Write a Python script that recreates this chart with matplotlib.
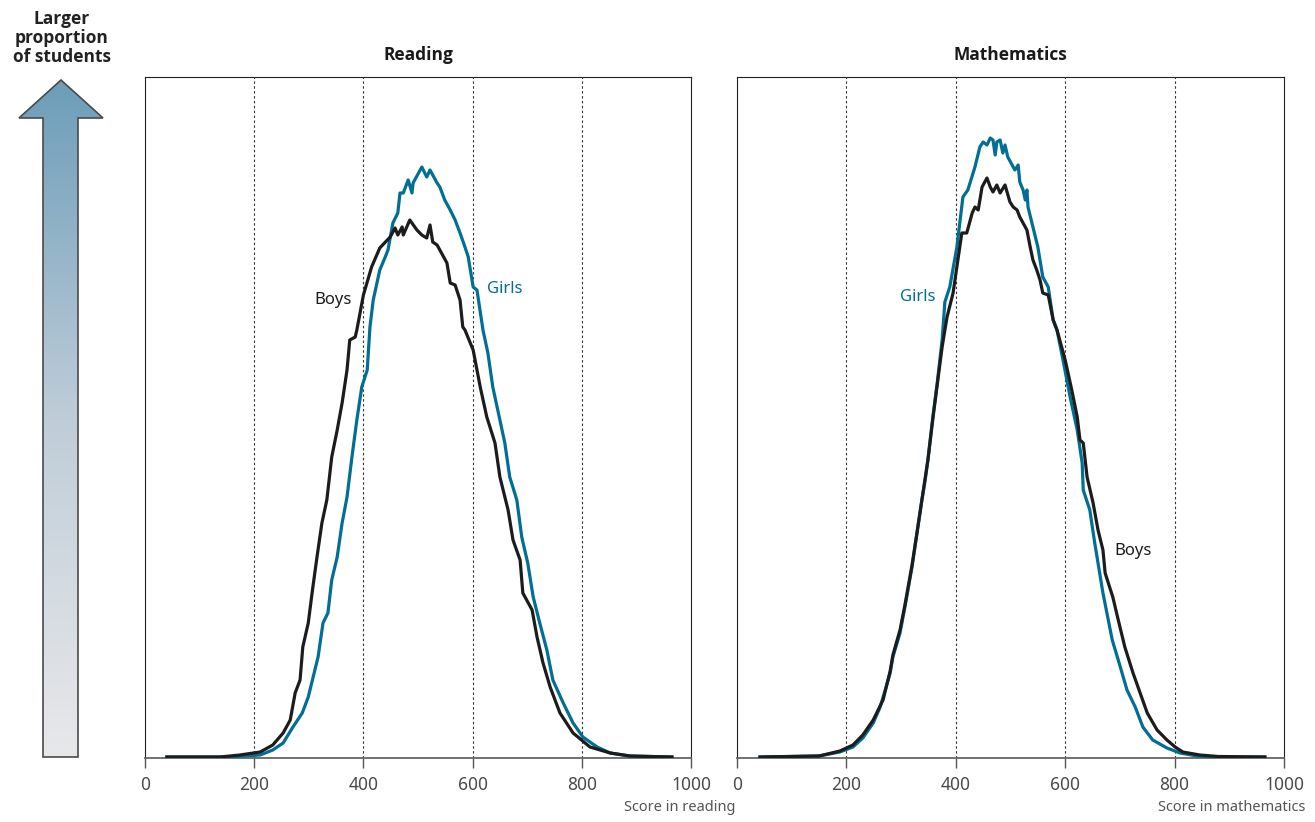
import numpy as np
import matplotlib
matplotlib.use("Agg")
import matplotlib.pyplot as plt
from matplotlib.patches import Polygon
from matplotlib.colors import LinearSegmentedColormap
from matplotlib import font_manager as fm

plt.rcParams['font.family'] = ['Noto Sans', 'DejaVu Sans']


def bold_family():
    for fam in ['Noto Sans', 'Open Sans', 'Lato', 'Roboto', 'Inter', 'Liberation Sans']:
        for f in fm.fontManager.ttflist:
            if f.name == fam and (f.weight in ('bold', 700) or (isinstance(f.weight, int) and f.weight >= 600)):
                return fam
    return 'DejaVu Sans'


BOLD_FAM = bold_family()

# ---------------- data (proportion of students, arbitrary density units) ----------------
read_boys_score = [40, 137, 174, 211, 234, 253, 266, 275, 284, 289, 299, 306, 315, 324, 333, 342, 352,
                   361, 370, 375, 385, 388, 400, 415, 430, 449, 458, 463, 471, 473, 485, 498, 507, 516,
                   522, 527, 535, 540, 553, 559, 568, 577, 582, 586, 601, 614, 626, 641, 650, 665, 674,
                   687, 692, 709, 718, 729, 742, 760, 784, 815, 852, 888, 965]
read_boys_value = [0, 0, 0.02, 0.05, 0.12, 0.24, 0.37, 0.64, 0.77, 1.10, 1.34, 1.64, 2.00, 2.34, 2.57,
                   3.00, 3.27, 3.54, 3.87, 4.17, 4.20, 4.27, 4.62, 4.90, 5.09, 5.20, 5.29, 5.22, 5.30,
                   5.22, 5.37, 5.27, 5.22, 5.19, 5.32, 5.15, 5.12, 5.07, 4.94, 4.74, 4.72, 4.57, 4.30,
                   4.27, 4.07, 3.70, 3.40, 3.14, 2.80, 2.47, 2.17, 1.97, 1.64, 1.47, 1.20, 0.94, 0.70,
                   0.44, 0.24, 0.10, 0.04, 0.01, 0]

read_girls_score = [40, 150, 211, 234, 253, 271, 288, 299, 308, 317, 326, 335, 342, 352, 361, 370, 379,
                    388, 397, 407, 412, 418, 430, 440, 445, 454, 463, 467, 473, 482, 489, 491, 507, 516,
                    522, 535, 540, 549, 559, 568, 577, 586, 592, 601, 608, 619, 628, 637, 650, 659, 668,
                    681, 690, 701, 711, 723, 736, 747, 766, 784, 802, 828, 852, 888, 965]
read_girls_value = [0, 0, 0.02, 0.07, 0.14, 0.30, 0.44, 0.60, 0.80, 1.00, 1.34, 1.44, 1.77, 2.00, 2.34,
                    2.60, 3.00, 3.37, 3.70, 3.87, 4.30, 4.57, 4.87, 5.00, 5.07, 5.34, 5.44, 5.64, 5.64,
                    5.77, 5.64, 5.74, 5.90, 5.80, 5.87, 5.74, 5.70, 5.57, 5.47, 5.37, 5.24, 5.10, 5.00,
                    4.70, 4.67, 4.27, 4.04, 3.70, 3.37, 3.14, 2.80, 2.57, 2.20, 1.94, 1.60, 1.34, 1.07,
                    0.77, 0.54, 0.34, 0.20, 0.10, 0.04, 0.01, 0]

math_girls_score = [42, 150, 188, 212, 230, 249, 261, 271, 280, 285, 298, 307, 320, 329, 338, 344, 349,
                    358, 366, 375, 380, 389, 402, 413, 422, 435, 444, 450, 457, 463, 468, 472, 475, 481,
                    486, 490, 495, 503, 508, 514, 517, 523, 527, 530, 532, 541, 550, 559, 569, 578, 585,
                    596, 609, 622, 631, 633, 645, 654, 669, 686, 697, 713, 728, 742, 760, 786, 810, 841,
                    880, 965]
math_girls_value = [0, 0.01, 0.05, 0.10, 0.19, 0.34, 0.49, 0.67, 0.84, 1.00, 1.24, 1.50, 1.90, 2.24,
                    2.57, 2.77, 2.97, 3.40, 3.74, 4.17, 4.55, 4.70, 5.10, 5.60, 5.67, 5.90, 6.10, 6.15,
                    6.12, 6.19, 6.17, 6.02, 6.15, 6.17, 6.04, 6.12, 6.00, 5.92, 5.87, 5.92, 5.75, 5.67,
                    5.57, 5.67, 5.50, 5.30, 5.10, 4.80, 4.70, 4.37, 4.27, 3.97, 3.60, 3.27, 2.94, 2.67,
                    2.47, 2.14, 1.64, 1.17, 0.97, 0.67, 0.50, 0.30, 0.17, 0.09, 0.04, 0.01, 0, 0]

math_boys_score = [42, 150, 188, 212, 230, 249, 267, 280, 285, 298, 307, 320, 329, 338, 349, 358, 366,
                   375, 384, 395, 411, 420, 430, 435, 441, 448, 457, 463, 468, 475, 481, 490, 499, 505,
                   512, 517, 523, 530, 536, 541, 548, 554, 559, 569, 578, 585, 600, 612, 622, 627, 633,
                   640, 651, 660, 669, 673, 687, 697, 709, 724, 737, 750, 768, 786, 801, 815, 846, 880,
                   965]
math_boys_value = [0, 0.01, 0.06, 0.12, 0.22, 0.37, 0.57, 0.86, 1.02, 1.27, 1.52, 1.92, 2.24, 2.57,
                   2.97, 3.38, 3.72, 4.10, 4.40, 4.64, 5.24, 5.24, 5.44, 5.50, 5.47, 5.70, 5.79, 5.70,
                   5.65, 5.72, 5.64, 5.72, 5.55, 5.50, 5.47, 5.40, 5.34, 5.27, 5.10, 4.97, 4.87, 4.77,
                   4.64, 4.62, 4.37, 4.27, 3.97, 3.67, 3.40, 3.17, 3.14, 2.80, 2.54, 2.27, 2.07, 1.84,
                   1.60, 1.37, 1.10, 0.84, 0.64, 0.44, 0.27, 0.17, 0.10, 0.05, 0.02, 0.005, 0]

x_ticks = [0, 200, 400, 600, 800, 1000]
grid_x = [200, 400, 600, 800]

BLACK = '#1c1c1c'
TEAL = '#006f93'
TICK_GRAY = '#555555'

W, H = 1315, 822
fig = plt.figure(figsize=(W / 100, H / 100), dpi=100)


def fx(px):
    return px / W


def fy(py):
    return 1 - py / H


panels = [
    dict(left=145, right=691, title='Reading', xlabel='Score in reading',
         xlabel_x=1.081,
         series=[(read_girls_score, read_girls_value, TEAL),
                 (read_boys_score, read_boys_value, BLACK)],
         labels=[('Boys', 333, 300, BLACK), ('Girls', 505, 289, TEAL)]),
    dict(left=737, right=1284, title='Mathematics', xlabel='Score in mathematics',
         xlabel_x=1.039,
         series=[(math_girls_score, math_girls_value, TEAL),
                 (math_boys_score, math_boys_value, BLACK)],
         labels=[('Girls', 918, 297, TEAL), ('Boys', 1133, 551, BLACK)]),
]

top_px, bot_px = 77, 758
YMAX = 6.80
for p in panels:
    ax = fig.add_axes([fx(p['left']), fy(bot_px), (p['right'] - p['left']) / W, (bot_px - top_px) / H])
    for xs, ys, col in p['series']:
        ax.plot(xs, ys, color=col, lw=2.3, solid_joinstyle='round', zorder=3)
    for g in grid_x:
        ax.axvline(g, color='#333333', lw=0.8, ls=(0, (2.2, 2.2)), zorder=1)
    ax.set_xlim(0, 1000)
    ax.set_ylim(-0.01, YMAX)
    ax.set_yticks([])
    ax.set_xticks(x_ticks)
    ax.set_xticklabels([str(t) for t in x_ticks])
    ax.tick_params(axis='x', direction='out', length=7, width=1.0, color=TICK_GRAY,
                   labelcolor='#4a4a4a', labelsize=12.5, pad=6)
    for s in ['left', 'right', 'top']:
        ax.spines[s].set_color('#222222')
        ax.spines[s].set_linewidth(0.8)
    ax.spines['bottom'].set_color('#666666')
    ax.spines['bottom'].set_linewidth(1.3)
    ax.set_title(p['title'], fontsize=12.5, fontweight='bold', family=[BOLD_FAM, 'DejaVu Sans'],
                 color='#1a1a1a', pad=12)
    ax.text(p['xlabel_x'], -0.072, p['xlabel'], transform=ax.transAxes, ha='right', va='center',
            fontsize=10.5, color='#555555')
    for txt, px, py, col in p['labels']:
        fig.text(fx(px), fy(py), txt, ha='center', va='center', fontsize=12, color=col)

# ---------------- gradient arrow ----------------
aax = fig.add_axes([fx(15), fy(762), 92 / W, 685 / H])
aax.set_xlim(0, 92)
aax.set_ylim(0, 685)
aax.axis('off')
poly = [(28, 5), (63, 5), (63, 644), (88, 644), (46, 682), (4, 644), (28, 644)]
cmap = LinearSegmentedColormap.from_list('arr', ['#e8e8ea', '#bfcdd8', '#6c9db9'])
grad = np.linspace(0, 1, 256).reshape(-1, 1)
im = aax.imshow(grad, cmap=cmap, extent=[0, 92, 5, 682], origin='lower', aspect='auto', zorder=1)
patch = Polygon(poly, closed=True, facecolor='none', edgecolor='#4a4a4a', lw=1.2, zorder=2)
aax.add_patch(patch)
im.set_clip_path(patch)

fig.text(fx(62), fy(38), 'Larger\nproportion\nof students', ha='center', va='center',
         fontsize=12.5, fontweight='bold', family=[BOLD_FAM, 'DejaVu Sans'], color='#222222',
         linespacing=1.05)

fig.savefig('out.png', dpi=100)
